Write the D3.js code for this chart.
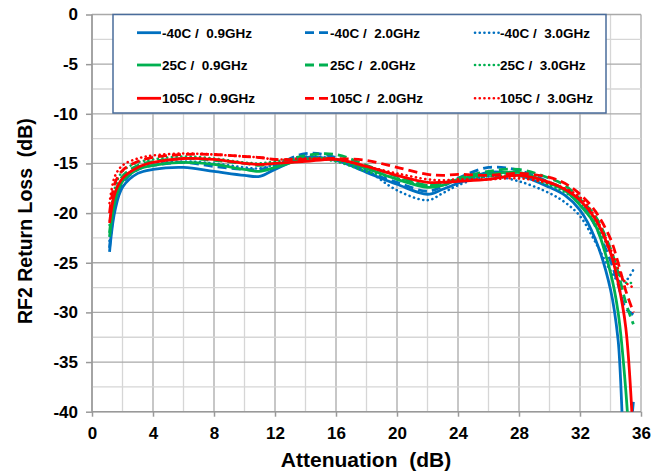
<!DOCTYPE html>
<html><head><meta charset="utf-8">
<script src="https://cdn.jsdelivr.net/npm/d3@7/dist/d3.min.js"></script>
<style>
html,body{margin:0;padding:0;background:#fff;}
text{font-family:"Liberation Sans",Arial,sans-serif;font-weight:bold;fill:#000;white-space:pre;}
</style></head>
<body><svg id="chart" width="667" height="475"></svg>
<script>
// ---- data ----
const attenuation = [1.15, 1.5, 2, 3, 4, 6, 8, 10, 11, 12, 14, 16, 18, 20, 22, 23, 24, 26, 28, 30, 31, 32, 33, 34, 34.5, 35, 35.5];
const m40_09 = [-23.9, -19.8, -17.4, -16.0, -15.6, -15.4, -15.8, -16.2, -16.3, -15.6, -14.4, -14.7, -15.9, -17.1, -18.1, -17.6, -17.0, -15.9, -16.2, -17.4, -18.2, -19.7, -22.6, -27.7, -32.8, -45, -39];
const m40_20 = [-23.5, -19.3, -17.0, -15.6, -15.2, -14.9, -15.3, -15.6, -15.6, -15.2, -14.0, -14.4, -15.8, -16.9, -17.8, -17.3, -16.5, -15.4, -15.7, -16.9, -17.6, -18.8, -21.3, -24.8, -27.2, -29.6, -30.2];
const m40_30 = [-22.8, -18.8, -16.6, -15.4, -15.0, -14.8, -15.0, -15.4, -15.5, -15.1, -14.3, -14.6, -15.7, -17.7, -18.7, -18.0, -17.2, -16.3, -16.8, -18.0, -18.9, -20.3, -22.9, -25.8, -26.8, -26.8, -25.7];
const p25_09 = [-22.4, -18.8, -16.8, -15.6, -15.2, -14.9, -15.1, -15.6, -15.8, -15.4, -14.6, -14.6, -15.5, -16.6, -17.4, -17.2, -16.6, -16.1, -15.9, -17.0, -17.7, -19.2, -21.2, -26.0, -30.0, -37.8, -50];
const p25_20 = [-22.0, -18.2, -16.3, -15.2, -14.8, -14.5, -14.7, -15.0, -15.2, -15.0, -14.2, -14.1, -15.2, -16.3, -17.2, -17.0, -16.5, -15.8, -15.6, -16.5, -17.2, -18.6, -20.3, -23.6, -26.0, -29.0, -31.2];
const p25_30 = [-21.2, -17.5, -15.8, -14.9, -14.6, -14.3, -14.5, -14.9, -15.0, -14.8, -14.5, -14.8, -15.8, -16.5, -17.2, -17.0, -16.7, -16.3, -16.3, -17.2, -17.9, -19.0, -21.0, -24.0, -26.0, -27.0, -27.0];
const p105_09 = [-21.0, -18.0, -16.5, -15.4, -14.9, -14.5, -14.6, -15.0, -15.1, -15.0, -14.8, -14.6, -15.3, -16.2, -16.9, -16.9, -16.8, -16.6, -16.2, -16.9, -17.6, -18.7, -20.6, -24.0, -27.0, -31.5, -43];
const p105_20 = [-20.0, -17.0, -15.7, -14.8, -14.4, -14.1, -14.1, -14.3, -14.4, -14.6, -14.6, -14.5, -14.7, -15.4, -16.1, -16.2, -16.1, -16.2, -16.0, -16.4, -17.0, -18.1, -19.8, -22.6, -25.0, -27.8, -30.0];
const p105_30 = [-19.0, -16.3, -15.2, -14.5, -14.2, -14.0, -14.1, -14.3, -14.4, -14.6, -14.5, -14.6, -15.3, -16.0, -16.6, -16.7, -16.6, -16.6, -16.5, -17.0, -17.5, -18.4, -20.4, -23.6, -25.6, -27.0, -27.5];

const seriesNames = ["-40C /  0.9GHz", "-40C /  2.0GHz", "-40C /  3.0GHz",
                     "25C /  0.9GHz", "25C /  2.0GHz", "25C /  3.0GHz",
                     "105C /  0.9GHz", "105C /  2.0GHz", "105C /  3.0GHz"];
const seriesValues = [m40_09, m40_20, m40_30, p25_09, p25_20, p25_30, p105_09, p105_20, p105_30];
const xTicks = [0, 4, 8, 12, 16, 20, 24, 28, 32, 36];
const yTicks = [0, -5, -10, -15, -20, -25, -30, -35, -40];
const xTitle = "Attenuation  (dB)";
const yTitle = "RF2 Return Loss  (dB)";

// ---- styles ----
const colors = ["#0070C0", "#0070C0", "#0070C0", "#00B050", "#00B050", "#00B050", "#FF0000", "#FF0000", "#FF0000"];
const styles = ["solid", "dash", "dot", "solid", "dash", "dot", "solid", "dash", "dot"];

const svg = d3.select("#chart");
const L = 92, R = 641, T = 14.5, B = 411.7;
const x = d3.scaleLinear().domain([0, 36]).range([L, R]);
const y = d3.scaleLinear().domain([-40, 0]).range([B, T]);

// grid
const g = svg.append("g");
d3.range(0, 36.01, 2).forEach(v => {
  const major = v % 4 === 0;
  g.append("line").attr("x1", x(v)).attr("x2", x(v)).attr("y1", T).attr("y2", B)
    .attr("stroke", major ? "#a9a9a9" : "#d6d6d6").attr("stroke-width", 1.3);
});
d3.range(-40, 0.01, 2.5).forEach(v => {
  const major = v % 5 === 0;
  g.append("line").attr("x1", L).attr("x2", R).attr("y1", y(v)).attr("y2", y(v))
    .attr("stroke", major ? "#a9a9a9" : "#d6d6d6").attr("stroke-width", 1.3);
});

// axes
const xAxis = d3.axisBottom(x).tickValues(xTicks).tickSize(5).tickPadding(10).tickFormat(d3.format("d"));
const yAxis = d3.axisLeft(y).tickValues(yTicks).tickSize(6).tickPadding(8).tickFormat(d => d === 0 ? "0" : String(d));
const gx = svg.append("g").attr("transform", `translate(0,${B})`).call(xAxis);
const gy = svg.append("g").attr("transform", `translate(${L},0)`).call(yAxis);
[gx, gy].forEach(a => {
  a.select(".domain").attr("stroke", "#999").attr("stroke-width", 1.5);
  a.selectAll(".tick line").attr("stroke", "#999").attr("stroke-width", 1.5);
  a.selectAll("text").style("font-size", "17px").style("font-family", "'Liberation Sans',Arial,sans-serif").style("font-weight", "bold").attr("fill", "#000");
});
gx.select(".domain").attr("d", `M${L},0H${R}`);
gx.selectAll(".tick line").attr("y1", 0);
gy.select(".domain").attr("d", `M0,${B}V${T}`);

// titles
svg.append("text").attr("x", 366).attr("y", 467).attr("text-anchor", "middle")
  .style("font-size", "21px").text(xTitle);
svg.append("text").attr("transform", `translate(32,${(T + B) / 2 + 8}) rotate(-90)`).attr("text-anchor", "middle")
  .style("font-size", "19.5px").text(yTitle);

// clip
svg.append("clipPath").attr("id", "plotclip").append("rect")
  .attr("x", L).attr("y", T).attr("width", R - L + 8).attr("height", B - T);

const line = d3.line().x(d => x(d[0])).y(d => y(d[1])).curve(d3.curveCatmullRom.alpha(0.5));
function styleLine(sel, style, color) {
  sel.attr("fill", "none").attr("stroke", color).attr("stroke-linejoin", "round");
  if (style === "solid") sel.attr("stroke-width", 2.8);
  else if (style === "dash") sel.attr("stroke-width", 2.8).attr("stroke-dasharray", "9,5");
  else sel.attr("stroke-width", 2.6).attr("stroke-dasharray", "0.1,4.6").attr("stroke-linecap", "round");
}
const lines = svg.append("g").attr("clip-path", "url(#plotclip)");
seriesValues.forEach((vals, i) => {
  const pts = attenuation.map((a, j) => [a, vals[j]]);
  lines.append("path").attr("d", line(pts)).call(styleLine, styles[i], colors[i]);
});

// legend
const lg = svg.append("g");
lg.append("rect").attr("x", 113).attr("y", T).attr("width", 493).attr("height", 98.5)
  .attr("fill", "#fff").attr("stroke", "#4a6c9b").attr("stroke-width", 1.5);
const colX = [137, 305, 475];
const rowY = [32.7, 65, 98.3];
seriesNames.forEach((name, i) => {
  const r = Math.floor(i / 3), c = i % 3;
  const lx = colX[c], ly = rowY[r];
  lg.append("line").attr("x1", lx).attr("x2", lx + 24).attr("y1", ly).attr("y2", ly)
    .call(styleLine, styles[i], colors[i]);
  lg.append("text").attr("x", lx + 25).attr("y", ly + 5).attr("xml:space", "preserve")
    .style("font-size", "13.5px").text(name);
});
</script></body></html>
